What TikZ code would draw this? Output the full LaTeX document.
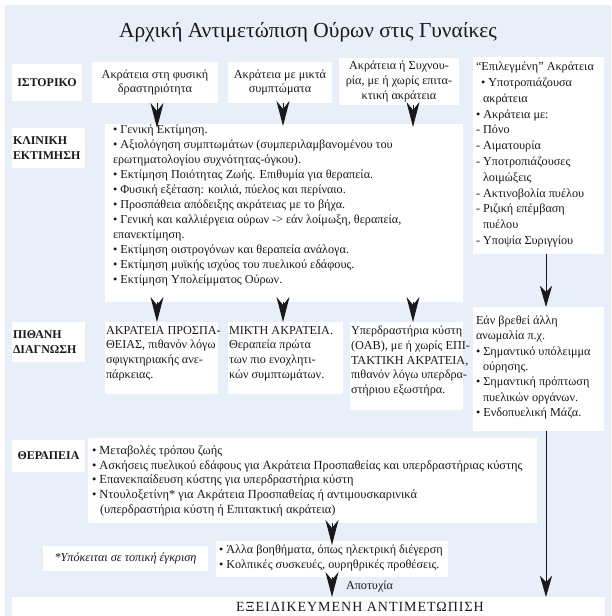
\documentclass[tikz,border=0pt]{standalone}
\usepackage{fontspec}
\setmainfont{Liberation Serif}
\usetikzlibrary{arrows.meta}
\definecolor{panel}{RGB}{232,239,248}
\definecolor{ink}{RGB}{25,25,25}
\begin{document}
\begin{tikzpicture}[x=1pt,y=-1pt,
  every node/.style={text=ink, inner sep=0pt, outer sep=0pt},
  card/.style={fill=white, anchor=north west},
  body/.style={font=\fontsize{12.2}{14.7}\selectfont},
  caps/.style={font=\fontsize{11.9}{14.7}\selectfont\bfseries},
  lines/.style={anchor=north west, align=left},
  fat/.style={draw=ink, line width=1pt, -{Stealth[length=25pt,width=13pt,inset=8pt]}},
  slim/.style={draw=ink, line width=0.8pt, -{Stealth[length=21pt,width=12pt,inset=6pt]}}
]
\useasboundingbox (0,0) rectangle (611,616);
\fill[panel] (5,5) rectangle (611,616);

% x positions of the vertical connectors
\coordinate (colA) at (157,0);
\coordinate (colB) at (283,0);
\coordinate (colC) at (413,0);
\coordinate (colD) at (546,0);

\node[font=\fontsize{21.4}{25}\selectfont] (title) at (308,32) {Αρχική Αντιμετώπιση Ούρων στις Γυναίκες};

% ---- history row
\node[card, caps, minimum width=70pt, minimum height=37pt] (histlab) at (12,64) {ΙΣΤΟΡΙΚΟ};
\node[card, body, align=center, minimum width=126pt, minimum height=41pt] (hA) at (92,62) {Ακράτεια στη φυσική\\δραστηριότητα};
\node[card, body, align=center, minimum width=104pt, minimum height=41pt] (hB) at (228,62) {Ακράτεια με μικτά\\συμπτώματα};
\node[card, body, align=center, minimum width=120pt, minimum height=47pt] (hC) at (339,58) {Ακράτεια ή Συχνου-\\ρία, με ή χωρίς επιτα-\\κτική ακράτεια};
\node[card, minimum width=131pt, minimum height=197pt] (sel) at (473,57) {};
\node[lines, font=\fontsize{12.2}{15.8}\selectfont] (selT) at (476,62)
  {“Επιλεγμένη” Ακράτεια\\
   \hspace*{5pt}• Υποτροπιάζουσα\\
   \hspace*{7pt}ακράτεια\\
   • Ακράτεια με:\\
   - Πόνο\\
   - Αιματουρία\\
   - Υποτροπιάζουσες\\
   \hspace*{7pt}λοιμώξεις\\
   - Ακτινοβολία πυέλου\\
   - Ριζική επέμβαση\\
   \hspace*{7pt}πυέλου\\
   - Υποψία Συριγγίου};

% ---- clinical assessment row
\node[card, caps, align=left, minimum width=73pt, minimum height=40pt, text width=71pt, inner xsep=1pt] (clinlab) at (12,128) {ΚΛΙΝΙΚΗ\\ΕΚΤΙΜΗΣΗ};
\node[card, minimum width=358pt, minimum height=178pt] (clin) at (105,124) {};
\node[lines, font=\fontsize{12.2}{15}\selectfont] (clinT) at (113,125)
  {• Γενική Εκτίμηση.\\
   • Αξιολόγηση συμπτωμάτων (συμπεριλαμβανομένου του\\
   ερωτηματολογίου συχνότητας-όγκου).\\
   • Εκτίμηση Ποιότητας Ζωής. Επιθυμία για θεραπεία.\\
   • Φυσική εξέταση: κοιλιά, πύελος και περίναιο.\\
   • Προσπάθεια απόδειξης ακράτειας με το βήχα.\\
   • Γενική και καλλιέργεια ούρων -> εάν λοίμωξη, θεραπεία,\\
   επανεκτίμηση.\\
   • Εκτίμηση οιστρογόνων και θεραπεία ανάλογα.\\
   • Εκτίμηση μυϊκής ισχύος του πυελικού εδάφους.\\
   • Εκτίμηση Υπολείμματος Ούρων.};

% ---- probable diagnosis row
\node[card, caps, align=left, minimum width=73pt, minimum height=40pt, text width=71pt, inner xsep=1pt] (diaglab) at (12,322) {ΠΙΘΑΝΗ\\ΔΙΑΓΝΩΣΗ};
\node[card, minimum width=113pt, minimum height=72pt] (dF) at (105,322) {};
\node[lines, font=\fontsize{12.2}{14.7}\selectfont] (dFT) at (106,326)
  {ΑΚΡΑΤΕΙΑ ΠΡΟΣΠΑ-\\ΘΕΙΑΣ, πιθανόν λόγω\\σφιγκτηριακής ανε-\\πάρκειας.};
\node[card, minimum width=115pt, minimum height=72pt] (dG) at (228,322) {};
\node[lines, font=\fontsize{12.2}{14.7}\selectfont] (dGT) at (229,326)
  {ΜΙΚΤΗ ΑΚΡΑΤΕΙΑ.\\Θεραπεία πρώτα\\των πιο ενοχλητι-\\κών συμπτωμάτων.};
\node[card, minimum width=113pt, minimum height=88pt] (dH) at (350,322) {};
\node[lines, font=\fontsize{12.2}{14.7}\selectfont] (dHT) at (351,326)
  {Υπερδραστήρια κύστη\\(OAB), με ή χωρίς ΕΠΙ-\\ΤΑΚΤΙΚΗ ΑΚΡΑΤΕΙΑ,\\πιθανόν λόγω υπερδρα-\\στήριου εξωστήρα.};
\node[card, minimum width=131pt, minimum height=124pt] (alt) at (473,307) {};
\node[lines, font=\fontsize{12.2}{15.3}\selectfont] (altT) at (476,316)
  {Εάν βρεθεί άλλη\\
   ανωμαλία π.χ.\\
   • Σημαντικό υπόλειμμα\\
   \hspace*{7pt}ούρησης.\\
   • Σημαντική πρόπτωση\\
   \hspace*{7pt}πυελικών οργάνων.\\
   • Ενδοπυελική Μάζα.};

% ---- treatment row
\node[card, caps, minimum width=73pt, minimum height=32pt] (therlab) at (12,440) {ΘΕΡΑΠΕΙΑ};
\node[card, minimum width=449pt, minimum height=85pt] (ther) at (88,438) {};
\node[lines, font=\fontsize{12.4}{14.6}\selectfont] (therT) at (92,446)
  {• Μεταβολές τρόπου ζωής\\
   • Ασκήσεις πυελικού εδάφους για Ακράτεια Προσπαθείας και υπερδραστήριας κύστης\\
   • Επανεκπαίδευση κύστης για υπερδραστήρια κύστη\\
   • Ντουλοξετίνη* για Ακράτεια Προσπαθείας ή αντιμουσκαρινικά\\
   \hspace*{8pt}(υπερδραστήρια κύστη ή Επιτακτική ακράτεια)};

\node[card, body, minimum width=165pt, minimum height=25pt] (note) at (43,546) {\itshape *Υπόκειται σε τοπική έγκριση};
\node[card, minimum width=232pt, minimum height=36pt] (aids) at (216,541) {};
\node[lines, font=\fontsize{12.2}{15}\selectfont] (aidsT) at (219,545)
  {• Άλλα βοηθήματα, όπως ηλεκτρική διέγερση\\
   • Κολπικές συσκευές, ουρηθρικές προθέσεις.};

\node[card, minimum width=593pt, minimum height=25pt] (spec) at (12,597) {};
\node[font=\fontsize{14}{16}\selectfont\addfontfeature{LetterSpace=7}] (specT) at (360,607) {ΕΞΕΙΔΙΚΕΥΜΕΝΗ ΑΝΤΙΜΕΤΩΠΙΣΗ};

% ---- connectors
\draw[fat, shorten >=-4pt] (hA.south -| colA) -- (clin.north -| colA);
\draw[fat, shorten >=-2pt] (hB.south -| colB) -- (clin.north -| colB);
\draw[fat, shorten >=-3pt] (hC.south -| colC) -- (clin.north -| colC);
\draw[fat] (clin.south -| colA) -- (dF.north -| colA);
\draw[fat] (clin.south -| colB) -- (dG.north -| colB);
\draw[fat] (clin.south -| colC) -- (dH.north -| colC);
\draw[slim] (sel.south -| colD) -- (alt.north -| colD);
\draw[slim] (alt.south -| colD) -- (spec.north -| colD);
\draw[fat, shorten >=-4pt] (ther.south -| aids.north) -- (aids.north);
\draw[fat] (aids.south) -- (spec.north -| aids.south)
  node[pos=0.45, right=14pt, font=\fontsize{12.2}{14}\selectfont] (fail) {Αποτυχία};
\end{tikzpicture}
\end{document}
